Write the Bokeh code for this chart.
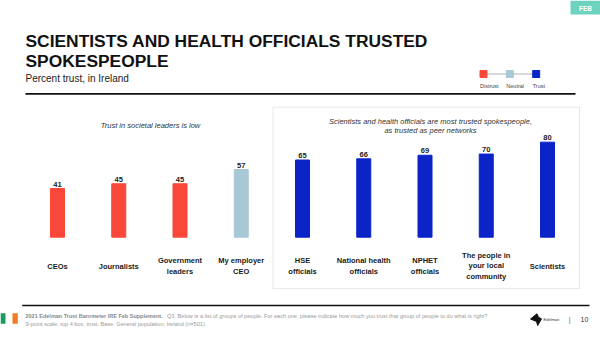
from bokeh.plotting import figure
from bokeh.models import Range1d, Label, BoxAnnotation
from bokeh.core.properties import value
from bokeh.embed import file_html
from bokeh.resources import INLINE

# ---------------- data ----------------
categories = ["CEOs", "Journalists", "Government\nleaders", "My employer\nCEO",
              "HSE\nofficials", "National health\nofficials", "NPHET\nofficials",
              "The people in\nyour local\ncommunity", "Scientists"]
trust_values = [41, 45, 45, 57, 65, 66, 69, 70, 80]
trust_groups = ["Distrust", "Distrust", "Distrust", "Neutral",
                "Trust", "Trust", "Trust", "Trust", "Trust"]
legend_labels = ["Distrust", "Neutral", "Trust"]
legend_colors = ["#F9473A", "#A9C8D5", "#0A24C8"]

title_lines = ["SCIENTISTS AND HEALTH OFFICIALS TRUSTED", "SPOKESPEOPLE"]
subtitle = "Percent trust, in Ireland"
note_left = "Trust in societal leaders is low"
note_right = ["Scientists and health officials are most trusted spokespeople,",
              "as trusted as peer networks"]
footer_bold = "2021 Edelman Trust Barometer IRE Feb Supplement."
footer_rest = ("Q3. Below is a list of groups of people. For each one, please indicate "
               "how much you trust that group of people to do what is right?")
footer_line2 = "9-point scale; top 4 box, trust. Base: General population, Ireland (n=501)."
page_number = "10"

# ---------------- layout helpers (pixel -> data) ----------------
W, H = 600, 337
XPX = 61.25          # pixels per category step
X0 = -57.0 / XPX     # left edge of canvas in category units
YPX = 1.1875         # pixels per percentage point
BASE_PX = 236.7      # baseline pixel row
Y_TOP = BASE_PX / YPX
Y_BOT = -(H - BASE_PX) / YPX


def dx(px):
    return X0 + px / XPX


def dy(py):
    return Y_TOP - py / YPX


FONT_NAME = "Liberation Sans"
FONT = value(FONT_NAME)

p = figure(width=W, height=H, x_range=Range1d(X0, X0 + W / XPX),
           y_range=Range1d(Y_BOT, Y_TOP), x_axis_type=None, y_axis_type=None,
           output_backend="svg", toolbar_location=None, min_border=0)
p.grid.visible = False
p.outline_line_color = None
p.background_fill_color = "white"
p.border_fill_color = "white"

color_of = dict(zip(legend_labels, legend_colors))
idx = list(range(len(categories)))
bar_colors = [color_of[g] for g in trust_groups]

# ---------------- frame box around trusted group ----------------
p.add_layout(BoxAnnotation(left=dx(272.5), right=dx(579), top=dy(106.7), bottom=dy(288),
                           fill_alpha=0, line_color="#b5b5b5", line_width=1))

# ---------------- bars ----------------
p.vbar(x=idx, top=trust_values, bottom=0, width=14 / XPX, color=bar_colors)

p.text(x=idx, y=trust_values, text=[str(v) for v in trust_values], y_offset=-4.5,
       text_align="center", text_baseline="alphabetic", text_font=FONT,
       text_font_style="bold", text_font_size="7.5px", text_color="#222222")

p.text(x=idx, y=[dy(265.5)] * len(idx), text=categories, text_align="center",
       text_baseline="middle", text_font=FONT, text_font_style="bold",
       text_font_size="7.5px", text_line_height=1.17, text_color="#1a1a1a")


def label(px, py, text, size, style="normal", color="#222222", align="left",
          baseline="middle"):
    p.add_layout(Label(x=dx(px), y=dy(py), text=text, text_align=align,
                       text_baseline=baseline, text_font=FONT_NAME,
                       text_font_style=style, text_font_size=size, text_color=color))


# ---------------- notes ----------------
label(150, 124.7, note_left, "7.5px", "italic", "#333333", "center")
for i, line in enumerate(note_right):
    label(430, 121 + 9 * i, line, "7.5px", "italic", "#333333", "center")

# ---------------- title ----------------
for i, line in enumerate(title_lines):
    label(25, 40.7 + 19.4 * i, line, "17.4px", "bold", "#111111", "left", "alphabetic")
label(25, 77.5, subtitle, "10px", "normal", "#222222", "left", "alphabetic")
p.line(x=[dx(25), dx(575)], y=[dy(93.3), dy(93.3)], line_color="#111111", line_width=1.8)

# ---------------- legend ----------------
leg_x = [dx(483), dx(509.3), dx(535.7)]
p.line(x=leg_x, y=[dy(73.5)] * 3, line_color="#9a9a9a", line_width=0.8)
p.scatter(x=leg_x, y=[dy(73.5)] * 3, marker="square", size=7, color=legend_colors)
for xx, lab in zip([479.5, 505.8, 532.2], legend_labels):
    label(xx, 85, lab, "5.5px", "normal", "#444444")

# ---------------- FEB tag ----------------
p.add_layout(BoxAnnotation(left=dx(570), right=dx(600), top=dy(0), bottom=dy(14),
                           fill_color="#6DD3BF", fill_alpha=1, line_alpha=0))
label(585, 7.5, "FEB", "6.5px", "bold", "white", "center")

# ---------------- footer ----------------
p.line(x=[dx(21.7), dx(589)], y=[dy(305), dy(305)], line_color="#111111", line_width=1.4)
p.add_layout(BoxAnnotation(left=dx(0), right=dx(5), top=dy(312.7), bottom=dy(323.3),
                           fill_color="#169B62", fill_alpha=1, line_alpha=0))
p.add_layout(BoxAnnotation(left=dx(12), right=dx(17.3), top=dy(312.7), bottom=dy(323.3),
                           fill_color="#F47B20", fill_alpha=1, line_alpha=0))
label(25, 315, footer_bold, "5.5px", "bold", "#8a8a8a")
label(166.5, 315, footer_rest, "5.6px", "normal", "#9a9a9a")
label(25, 323.3, footer_line2, "5.6px", "normal", "#9a9a9a")

# Edelman mark
logo_px = [(530, 318.5), (536.5, 313.3), (538, 316.8), (541, 318.3), (537.2, 325), (536, 321)]
p.patch(x=[dx(a) for a, b in logo_px], y=[dy(b) for a, b in logo_px], color="#111111")
label(543, 319, "Edelman", "4px", "normal", "#333333")
label(569, 319.3, "|", "6.5px", "normal", "#555555", "center")
label(584, 319.3, page_number, "7px", "normal", "#333333", "center")

open("out.html", "w").write(file_html(p, INLINE))
